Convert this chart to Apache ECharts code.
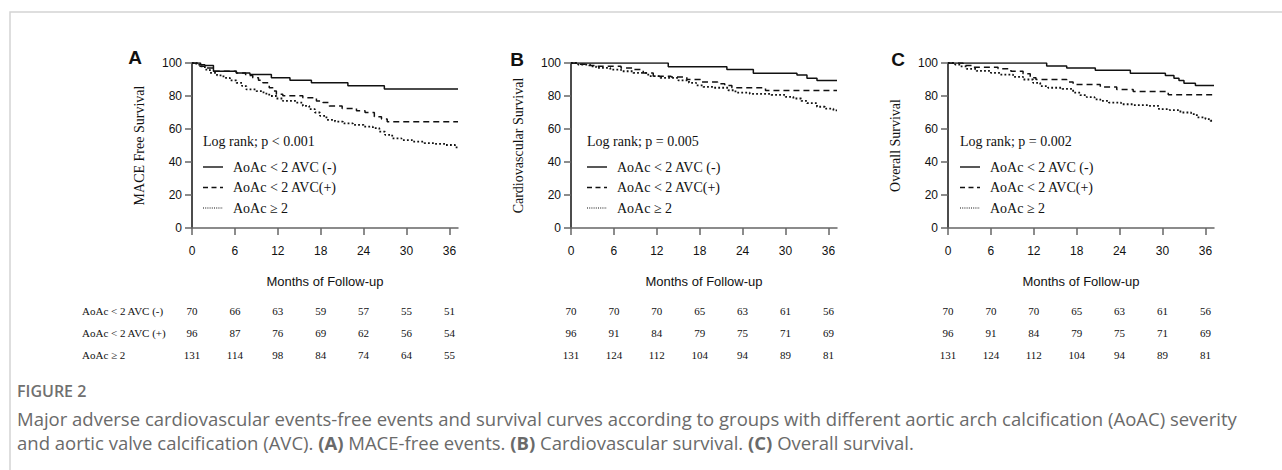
<!DOCTYPE html>
<html>
<head>
<meta charset="utf-8">
<script src="https://cdn.jsdelivr.net/npm/echarts@6/dist/echarts.min.js"></script>
<style>
  html, body { margin: 0; padding: 0; background: #fff; }
  #chart { width: 1282px; height: 470px; }
</style>
</head>
<body>
<div id="chart"></div>
<script>
// ---------- DATA ----------
const panelLetters = ['A', 'B', 'C'];
const yTitles = ['MACE Free Survival', 'Cardiovascular Survival', 'Overall Survival'];
const logRankTexts = ['Log rank; p < 0.001', 'Log rank; p = 0.005', 'Log rank; p = 0.002'];
const legendNames = ['AoAc < 2 AVC (-)', 'AoAc < 2 AVC(+)', 'AoAc \u2265 2'];
const tableRowLabels = ['AoAc < 2 AVC (-)', 'AoAc < 2 AVC (+)', 'AoAc \u2265 2'];
const xTicks = [0, 6, 12, 18, 24, 30, 36];
const xMax = 37.2;
const xTitle = 'Months of Follow-up';

// Panel A: MACE free survival (month, %)
const aSolid = [[0,100],[1.2,99],[1.8,98.5],[3,95],[6.2,94],[8.1,93],[11.1,91],[13.7,89.5],[16.7,88],[21.8,86.2],[26.9,84.2],[37.2,84.2]];
const aDash = [[0,100],[1.1,98],[2,97],[3,95],[6.2,94],[7.5,92.5],[8.5,91],[9.3,89.5],[9.9,88],[10.8,85],[11.3,83],[11.8,81],[12.7,80.2],[15.5,79],[17.4,77],[18.3,76],[19.2,74],[21,72.5],[23,71],[24.2,70],[25.5,67.5],[26.5,66],[27.3,64.4],[37.2,64.4]];
const aDot = [[0,100],[0.6,99],[1.1,98],[1.8,96],[2.5,94],[3.5,92.5],[4.4,91],[5.3,89.5],[6.2,88],[7,86],[7.6,84],[9,83],[10,81.5],[10.8,80],[11.8,78.5],[12.7,77],[14.6,76],[15.5,74],[16.4,72],[17.2,70],[17.9,68],[18.8,65.5],[20,64.5],[21.1,63.4],[22.5,62.5],[24,61.4],[25.3,60.5],[26.2,58.4],[27,56.5],[28,54.3],[29.3,53.3],[30.8,52.3],[32.5,51.5],[34,51],[35.4,50.3],[36.8,48.9],[37.2,48.9]];

// Panel B: cardiovascular survival
const bSolid = [[0,100],[13.6,97.8],[21.8,96],[25.5,93.8],[31.6,92.8],[33,90.8],[34.4,89.4],[37.2,89.4]];
const bDash = [[0,100],[1,99.3],[2,98.5],[3.6,98],[7,97],[8.7,96],[10.1,94],[11.5,92],[14,91.5],[16.2,90],[18.1,88.5],[20.5,87.5],[21.5,86.3],[22.5,85],[27.2,83.3],[37.2,83.3]];
const bDot = [[0,100],[1,99],[2.7,98],[3.5,97],[5.5,96],[7,95],[8.7,94],[10.8,92],[12.5,91],[15,89.5],[16.5,88],[17.5,86.5],[18.5,85.5],[20,85],[22,83.5],[23,82],[25,81.3],[28,80.7],[30,79.5],[31.1,78.5],[32.2,77],[33,75.7],[34.4,73.5],[35.5,72.3],[36.7,71.3],[37.2,71.3]];

// Panel C: overall survival
const cSolid = [[0,100],[13.8,98.2],[16.6,97],[20.6,95.6],[25.5,93.8],[30.4,92.4],[31.6,90.8],[32.3,89.4],[33,87.8],[34.6,86.3],[37.2,86.3]];
const cDash = [[0,100],[2.1,98.5],[3.5,97.5],[7,96.5],[8.8,95],[10.5,93.5],[11.5,91],[12.3,90],[16.6,88.5],[17.5,87],[21.3,85.5],[23.6,84],[25.9,82.8],[30.8,80.7],[37.2,80.7]];
const cDot = [[0,100],[1,99],[1.7,98],[2.6,96.5],[4,95.2],[6,94],[7.3,93],[9.1,91.6],[10.5,90],[11.9,88],[12.9,86],[14,85],[16,84.3],[17.5,82],[18.5,80.5],[19.4,79.3],[20.5,78],[21.3,77],[22.5,76],[24.2,75],[26,74.5],[28,74],[29.5,72],[31,71.5],[32.5,70],[34,69],[34.8,67],[36,66],[36.7,65],[37.2,65]];

// Numbers at risk (at months 0, 6, ..., 36)
const aRisk = [[70,66,63,59,57,55,51],[96,87,76,69,62,56,54],[131,114,98,84,74,64,55]];
const bRisk = [[70,70,70,65,63,61,56],[96,91,84,79,75,71,69],[131,124,112,104,94,89,81]];
const cRisk = [[70,70,70,65,63,61,56],[96,91,84,79,75,71,69],[131,124,112,104,94,89,81]];

const figureLabel = 'FIGURE 2';
const captionLine1 = 'Major adverse cardiovascular events-free events and survival curves according to groups with different aortic arch calcification (AoAC) severity';
const captionLine2 = 'and aortic valve calcification (AVC). {b|(A)} MACE-free events. {b|(B)} Cardiovascular survival. {b|(C)} Overall survival.';

// ---------- LAYOUT / STYLE ----------
const curves = [[aSolid, aDash, aDot], [bSolid, bDash, bDot], [cSolid, cDash, cDot]];
const risks = [aRisk, bRisk, cRisk];
const gridLeft = [192, 571, 948];
const gridTop = 63, gridW = 266, gridH = 165;
const lineTypes = ['solid', [6, 4], [1.8, 2.2]];
const serif = '"Liberation Serif", "Times New Roman", serif';
const sans = '"Liberation Sans", Arial, sans-serif';
const capFont = '"Open Sans", "Noto Sans", sans-serif';
const legendDx = [11, 16, 12];
const letterPos = [[135, 57], [517, 59], [898, 59]];
const rowY = [311, 333, 355];

const chart = echarts.init(document.getElementById('chart'), null, { renderer: 'svg' });

const grids = [], xAxes = [], yAxes = [], series = [];
for (let p = 0; p < 3; p++) {
  grids.push({ left: gridLeft[p], top: gridTop, width: gridW, height: gridH, containLabel: false });
  xAxes.push({
    type: 'value', gridIndex: p, min: 0, max: xMax,
    name: xTitle, nameLocation: 'middle', nameGap: 47,
    nameTextStyle: { fontFamily: sans, fontSize: 13, color: '#111' },
    axisLine: { show: true, onZero: false, lineStyle: { color: '#666', width: 1.5 } },
    axisTick: { show: true, inside: false, length: 7, customValues: xTicks, lineStyle: { color: '#666', width: 1.5 } },
    axisLabel: { customValues: xTicks, margin: 17, fontFamily: sans, fontSize: 12, color: '#111' },
    splitLine: { show: false }
  });
  yAxes.push({
    type: 'value', gridIndex: p, min: 0, max: 100, interval: 20,
    name: yTitles[p], nameLocation: 'middle', nameGap: 46, nameRotate: 90,
    nameTextStyle: { fontFamily: serif, fontSize: 14, color: '#111' },
    axisLine: { show: true, onZero: false, lineStyle: { color: '#111', width: 1.5 } },
    axisTick: { show: true, inside: false, length: 7, lineStyle: { color: '#666', width: 1.5 } },
    axisLabel: { margin: 10, fontFamily: sans, fontSize: 12, color: '#111' },
    splitLine: { show: false }
  });
  for (let g = 0; g < 3; g++) {
    series.push({
      type: 'line', name: legendNames[g], xAxisIndex: p, yAxisIndex: p,
      data: curves[p][g], step: 'end', symbol: 'none', silent: true,
      lineStyle: { color: '#111', width: g === 2 ? 1.8 : 1.5, type: lineTypes[g] },
      z: 3 - g
    });
  }
}

chart.setOption({
  animation: false,
  backgroundColor: '#fff',
  grid: grids, xAxis: xAxes, yAxis: yAxes, series: series
});

// Graphic elements: border, letters, legends, at-risk tables, caption
const graphic = [];
graphic.push({ type: 'rect', z: 0, shape: { x: 10, y: 12, width: 1300, height: 500 }, style: { fill: 'none', stroke: '#d4d4d4', lineWidth: 1.5 } });
for (let p = 0; p < 3; p++) {
  graphic.push({ type: 'text', x: letterPos[p][0], y: letterPos[p][1], style: { text: panelLetters[p], font: 'bold 19px ' + sans, fill: '#111', align: 'center', verticalAlign: 'middle' } });
  const lx = gridLeft[p] + legendDx[p];
  graphic.push({ type: 'text', x: lx, y: 141, style: { text: logRankTexts[p], font: '14px ' + serif, fill: '#111', verticalAlign: 'middle' } });
  for (let g = 0; g < 3; g++) {
    const ly = 167 + g * 20.5;
    graphic.push({ type: 'line', shape: { x1: lx, y1: ly, x2: lx + 20, y2: ly }, style: { stroke: '#111', lineWidth: g === 2 ? 1.2 : 1.4, lineDash: g === 0 ? null : (g === 1 ? [5, 3.5] : [1, 1.2]) } });
    graphic.push({ type: 'text', x: lx + 30, y: ly, style: { text: legendNames[g], font: '14px ' + serif, fill: '#111', verticalAlign: 'middle' } });
  }
  for (let r = 0; r < 3; r++) {
    if (p === 0) {
      graphic.push({ type: 'text', x: 82, y: rowY[r], style: { text: tableRowLabels[r], font: '11px ' + serif, fill: '#111', verticalAlign: 'middle' } });
    }
    for (let k = 0; k < xTicks.length; k++) {
      const px = chart.convertToPixel({ xAxisIndex: p }, xTicks[k]);
      graphic.push({ type: 'text', x: px, y: rowY[r], style: { text: String(risks[p][r][k]), font: '11px ' + serif, fill: '#111', align: 'center', verticalAlign: 'middle' } });
    }
  }
}
graphic.push({ type: 'text', x: 17, y: 391, style: { text: figureLabel, font: '600 16px ' + capFont, fill: '#707070', verticalAlign: 'middle' } });
graphic.push({ type: 'text', x: 17, y: 418, style: { text: captionLine1, font: '18.5px ' + capFont, fill: '#6a6a6a', verticalAlign: 'middle' } });
graphic.push({ type: 'text', x: 17, y: 442, style: {
  text: captionLine2, font: '18.5px ' + capFont, fill: '#6a6a6a', verticalAlign: 'middle',
  rich: { b: { fontFamily: capFont, fontSize: 18.5, fontWeight: 'bold', fill: '#6a6a6a' } }
} });

chart.setOption({ graphic: graphic });
</script>
</body>
</html>
